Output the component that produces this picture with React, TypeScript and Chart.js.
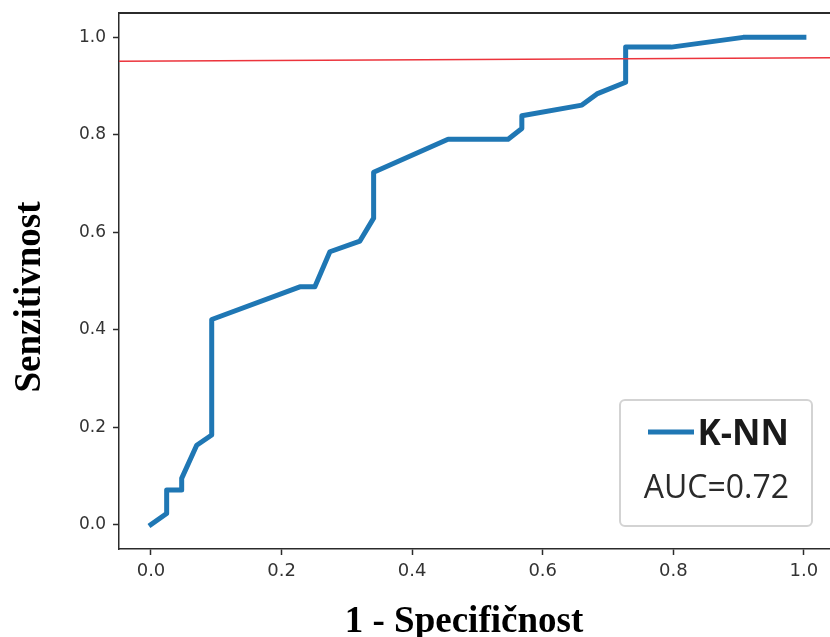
import React, { useEffect, useRef } from "react";
import { Chart, registerables } from "chart.js";

Chart.register(...registerables);

// ROC curve (1 - specificity, sensitivity)
const fpr = [0, 0.024, 0.024, 0.047, 0.047, 0.07, 0.093, 0.093, 0.228, 0.251, 0.274, 0.32, 0.341, 0.341, 0.455, 0.547, 0.568, 0.568, 0.66, 0.683, 0.727, 0.727, 0.797, 0.907, 1.0];
const tpr = [0, 0.023, 0.071, 0.071, 0.095, 0.163, 0.184, 0.421, 0.488, 0.488, 0.56, 0.582, 0.629, 0.723, 0.791, 0.791, 0.813, 0.839, 0.861, 0.884, 0.908, 0.98, 0.98, 1.0, 1.0];

// Red reference line (two end points)
const refX = [-0.05, 1.05];
const refY = [0.951, 0.958];

const xTicks = [0, 0.2, 0.4, 0.6, 0.8, 1.0];
const yTicks = [0, 0.2, 0.4, 0.6, 0.8, 1.0];

const seriesLabel = "K-NN";
const aucLabel = "AUC=0.72";
const xTitle = "1 - Specifičnost";
const yTitle = "Senzitivnost";

const BLUE = "#1f77b4";
const RED = "rgb(236,52,60)";
const AXIS = "#2b2b2b";

const decor = {
  id: "decor",
  afterDraw(chart: any) {
    const ctx = chart.ctx;
    const { left, top, right } = chart.chartArea;
    ctx.save();
    // top frame
    ctx.strokeStyle = AXIS;
    ctx.lineWidth = 2;
    ctx.beginPath();
    ctx.moveTo(left - 1, top);
    ctx.lineTo(right, top);
    ctx.stroke();

    // axis titles
    ctx.fillStyle = "#000";
    ctx.font = "bold 37px 'Liberation Serif', 'Times New Roman', serif";
    ctx.textAlign = "center";
    ctx.textBaseline = "alphabetic";
    ctx.fillText(xTitle, 464, 632);

    ctx.save();
    ctx.translate(40, 297);
    ctx.rotate(-Math.PI / 2);
    ctx.fillText(yTitle, 0, 0);
    ctx.restore();

    // legend box
    const bx = 620, by = 400, bw = 192, bh = 126, r = 5;
    ctx.fillStyle = "#fff";
    ctx.strokeStyle = "#d3d3d3";
    ctx.lineWidth = 2;
    ctx.beginPath();
    ctx.moveTo(bx + r, by);
    ctx.lineTo(bx + bw - r, by);
    ctx.arcTo(bx + bw, by, bx + bw, by + r, r);
    ctx.lineTo(bx + bw, by + bh - r);
    ctx.arcTo(bx + bw, by + bh, bx + bw - r, by + bh, r);
    ctx.lineTo(bx + r, by + bh);
    ctx.arcTo(bx, by + bh, bx, by + bh - r, r);
    ctx.lineTo(bx, by + r);
    ctx.arcTo(bx, by, bx + r, by, r);
    ctx.closePath();
    ctx.fill();
    ctx.stroke();

    ctx.strokeStyle = BLUE;
    ctx.lineWidth = 5;
    ctx.beginPath();
    ctx.moveTo(648, 432);
    ctx.lineTo(694, 432);
    ctx.stroke();

    ctx.fillStyle = "#1a1a1a";
    ctx.textAlign = "right";
    ctx.font = "bold 35px 'Open Sans', sans-serif";
    ctx.fillText(seriesLabel, 789, 445);
    ctx.fillStyle = "#2a2a2a";
    ctx.font = "32px 'Open Sans', sans-serif";
    ctx.fillText(aucLabel, 789, 498);
    ctx.restore();
  },
};

export default function App() {
  const ref = useRef<HTMLCanvasElement | null>(null);

  useEffect(() => {
    document.body.style.margin = "0";
    const canvas = ref.current!;
    const chart = new Chart(canvas, {
      type: "line",
      data: {
        datasets: [
          {
            label: "ref",
            data: refX.map((x, i) => ({ x, y: refY[i] })),
            borderColor: RED,
            borderWidth: 1.5,
            pointRadius: 0,
            tension: 0,
            order: 0,
          },
          {
            label: seriesLabel,
            data: fpr.map((x, i) => ({ x, y: tpr[i] })),
            borderColor: BLUE,
            borderWidth: 5,
            pointRadius: 0,
            tension: 0,
            borderJoinStyle: "round",
            borderCapStyle: "square",
            order: 1,
          },
        ],
      },
      options: {
        responsive: false,
        animation: false,
        devicePixelRatio: 1,
        layout: { padding: { top: 13, right: 0, left: 0, bottom: 0 } },
        plugins: { legend: { display: false }, tooltip: { enabled: false } },
        scales: {
          x: {
            type: "linear",
            min: -0.049,
            max: 1.04,
            afterBuildTicks: (s: any) => {
              s.ticks = xTicks.map((v) => ({ value: v }));
            },
            afterFit: (s: any) => {
              s.height = 88;
              s.paddingLeft = 0;
              s.paddingRight = 0;
            },
            ticks: {
              font: { family: "'DejaVu Sans', sans-serif", size: 18 },
              color: "#333",
              padding: 6,
              maxRotation: 0,
              autoSkip: false,
              callback: (v: any) => Number(v).toFixed(1),
            },
            grid: {
              display: true,
              drawOnChartArea: false,
              drawTicks: true,
              tickLength: 6,
              tickWidth: 1.5,
              tickColor: AXIS,
            },
            border: { display: true, color: AXIS, width: 1.5 },
          },
          y: {
            type: "linear",
            min: -0.05,
            max: 1.05,
            afterBuildTicks: (s: any) => {
              s.ticks = yTicks.map((v) => ({ value: v }));
            },
            afterFit: (s: any) => {
              s.width = 119;
              s.paddingTop = 0;
              s.paddingBottom = 0;
            },
            ticks: {
              font: { family: "'DejaVu Sans', sans-serif", size: 17 },
              color: "#333",
              padding: 7,
              autoSkip: false,
              callback: (v: any) => Number(v).toFixed(1),
            },
            grid: {
              display: true,
              drawOnChartArea: false,
              drawTicks: true,
              tickLength: 6,
              tickWidth: 1.5,
              tickColor: AXIS,
            },
            border: { display: true, color: AXIS, width: 1.5 },
          },
        },
      },
      plugins: [decor],
    });
    return () => chart.destroy();
  }, []);

  return (
    <div style={{ width: 830, height: 637 }}>
      <canvas ref={ref} width={830} height={637} style={{ display: "block" }} />
    </div>
  );
}
